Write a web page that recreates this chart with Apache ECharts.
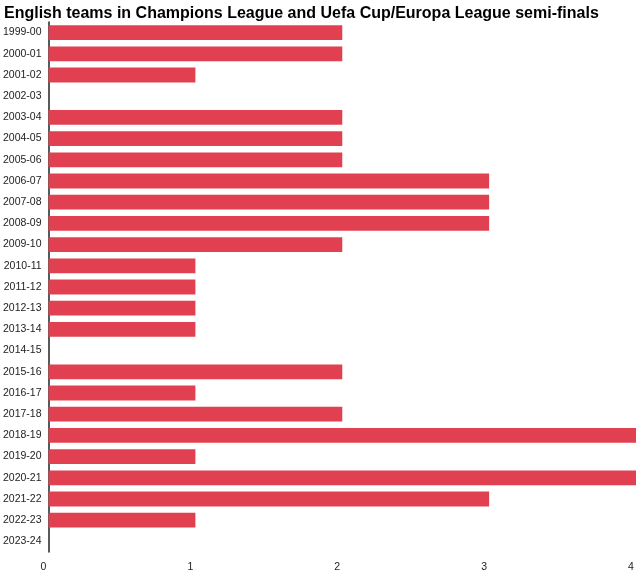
<!DOCTYPE html>
<html><head><meta charset="utf-8">
<script src="https://cdn.jsdelivr.net/npm/echarts@6/dist/echarts.min.js"></script>
<style>html,body{margin:0;padding:0;background:#fff}#c{width:640px;height:573px}</style>
</head><body><div id="c"></div>
<script>
const seasons = ["1999-00","2000-01","2001-02","2002-03","2003-04","2004-05","2005-06","2006-07","2007-08","2008-09","2009-10","2010-11","2011-12","2012-13","2013-14","2014-15","2015-16","2016-17","2017-18","2018-19","2019-20","2020-21","2021-22","2022-23","2023-24"];
const teams = [2,2,1,0,2,2,2,3,3,3,2,1,1,1,1,0,2,1,2,4,1,4,3,1,0];
const xTicks = [0,1,2,3,4];
const chart = echarts.init(document.getElementById('c'));
chart.setOption({
  animation:false,
  title:{text:"English teams in Champions League and Uefa Cup/Europa League semi-finals",left:4,top:1,padding:[5,0,5,0],
    textStyle:{fontFamily:"Liberation Sans, Arial, sans-serif",fontWeight:"bold",fontSize:16,color:"#000"}},
  grid:{left:47,right:4,top:22,bottom:19,containLabel:false},
  xAxis:{type:"value",min:xTicks[0],max:xTicks[xTicks.length-1],interval:1,
    axisLine:{show:false},axisTick:{show:false},splitLine:{show:false},
    axisLabel:{color:"#222",fontSize:10.5,fontFamily:"Liberation Sans, Arial, sans-serif",margin:10,padding:[0,10,0,0]}},
  yAxis:{type:"category",data:seasons,inverse:true,
    axisLine:{show:true,lineStyle:{color:"#222",width:1.5}},axisTick:{show:false},
    axisLabel:{color:"#222",fontSize:10.5,fontFamily:"Liberation Sans, Arial, sans-serif",margin:7}},
  series:[{type:"bar",data:teams,barCategoryGap:"30%",itemStyle:{color:"#e0404f"}}]
});
</script></body></html>
